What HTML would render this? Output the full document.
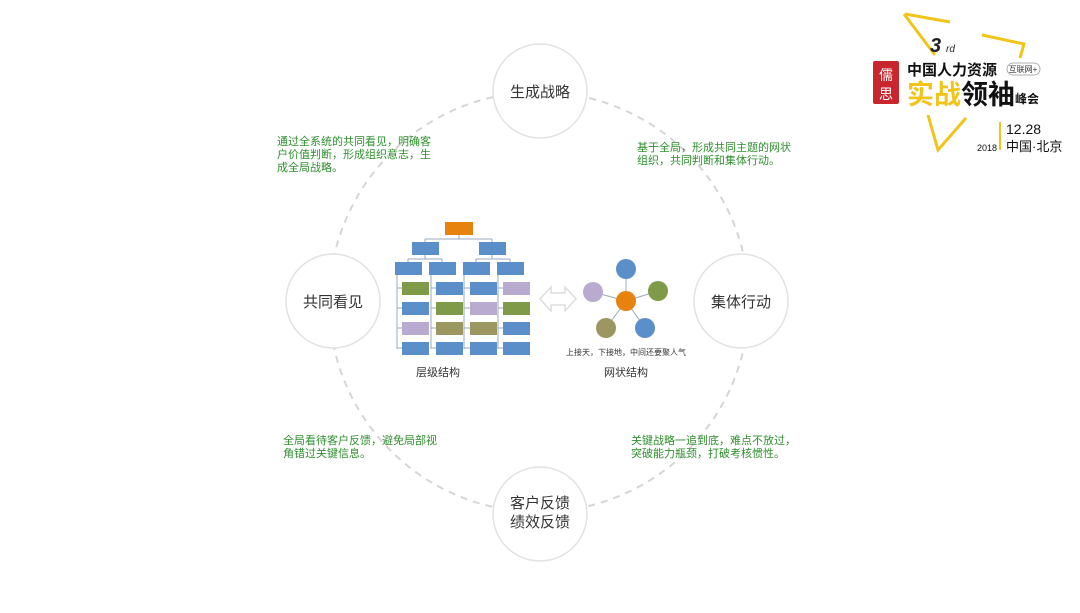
<!DOCTYPE html>
<html><head><meta charset="utf-8"><style>
body{margin:0;width:1080px;height:608px;background:#fff;overflow:hidden;font-family:"Liberation Sans","Noto Sans CJK SC",sans-serif}
</style></head><body>
<svg width="1080" height="608" xmlns="http://www.w3.org/2000/svg" font-family="Liberation Sans, Noto Sans CJK SC, sans-serif">
<circle cx="539" cy="302" r="210" fill="none" stroke="#d6d6d6" stroke-width="2" stroke-dasharray="7,6"/>
<g fill="#fff" stroke="#e2e2e2" stroke-width="1.5">
<circle cx="540" cy="91" r="47"/><circle cx="333" cy="301" r="47"/><circle cx="741" cy="301" r="47"/><circle cx="540" cy="514" r="47"/>
</g>
<g font-size="15" fill="#333" text-anchor="middle">
<text x="540" y="97">生成战略</text><text x="333" y="307">共同看见</text><text x="741" y="307">集体行动</text>
<text x="540" y="508">客户反馈</text><text x="540" y="527">绩效反馈</text>
</g>
<g font-size="11" fill="#2f8f2f">
<text x="277" y="145">通过全系统的共同看见，明确客</text><text x="277" y="158">户价值判断，形成组织意志，生</text><text x="277" y="171">成全局战略。</text>
<text x="637" y="151">基于全局，形成共同主题的网状</text><text x="637" y="164">组织，共同判断和集体行动。</text>
<text x="283" y="444">全局看待客户反馈，避免局部视</text><text x="283" y="457">角错过关键信息。</text>
<text x="631" y="444">关键战略一追到底，难点不放过，</text><text x="631" y="457">突破能力瓶颈，打破考核惯性。</text>
</g>
<!-- hierarchy -->
<g stroke="#9ab" stroke-width="1" fill="none">
<path d="M459 235V239M425 239H492M425 239V242M492 239V242"/>
<path d="M425 255V259M408 259H442M408 259V262M442 259V262"/>
<path d="M492 255V259M476 259H510M476 259V262M510 259V262"/>
<path d="M397 275V349M431 275V349M464 275V349M498 275V349"/>
<path d="M397 288H402M397 308H402M397 328H402M397 348H402M431 288H436M431 308H436M431 328H436M431 348H436M464 288H470M464 308H470M464 328H470M464 348H470M498 288H503M498 308H503M498 328H503M498 348H503"/>
</g>
<rect x="445" y="222" width="28" height="13" fill="#e8820f"/>
<g fill="#5b8fc9">
<rect x="412" y="242" width="27" height="13"/><rect x="479" y="242" width="27" height="13"/>
<rect x="395" y="262" width="27" height="13"/><rect x="429" y="262" width="27" height="13"/><rect x="463" y="262" width="27" height="13"/><rect x="497" y="262" width="27" height="13"/>
</g>
<rect x="402" y="282" width="27" height="13" fill="#7f9a48"/>
<rect x="402" y="302" width="27" height="13" fill="#5b8fc9"/>
<rect x="402" y="322" width="27" height="13" fill="#b9abcf"/>
<rect x="402" y="342" width="27" height="13" fill="#5b8fc9"/>
<rect x="436" y="282" width="27" height="13" fill="#5b8fc9"/>
<rect x="436" y="302" width="27" height="13" fill="#7f9a48"/>
<rect x="436" y="322" width="27" height="13" fill="#9c9660"/>
<rect x="436" y="342" width="27" height="13" fill="#5b8fc9"/>
<rect x="470" y="282" width="27" height="13" fill="#5b8fc9"/>
<rect x="470" y="302" width="27" height="13" fill="#b9abcf"/>
<rect x="470" y="322" width="27" height="13" fill="#9c9660"/>
<rect x="470" y="342" width="27" height="13" fill="#5b8fc9"/>
<rect x="503" y="282" width="27" height="13" fill="#b9abcf"/>
<rect x="503" y="302" width="27" height="13" fill="#7f9a48"/>
<rect x="503" y="322" width="27" height="13" fill="#5b8fc9"/>
<rect x="503" y="342" width="27" height="13" fill="#5b8fc9"/>
<!-- arrow -->
<path d="M540 299L551 287V293H565V287L576 299L565 311V305H551V311Z" fill="#fff" stroke="#ddd" stroke-width="1.5"/>
<!-- network -->
<g stroke="#9ab" stroke-width="1"><path d="M626 301L626 269M626 301L593 292M626 301L658 291M626 301L606 328M626 301L645 328"/></g>
<circle cx="626" cy="269" r="10" fill="#5b8fc9"/><circle cx="593" cy="292" r="10" fill="#b9abcf"/>
<circle cx="658" cy="291" r="10" fill="#7f9a48"/><circle cx="606" cy="328" r="10" fill="#9c9660"/>
<circle cx="645" cy="328" r="10" fill="#5b8fc9"/><circle cx="626" cy="301" r="10" fill="#e8820f"/>
<text x="626" y="355" font-size="8" fill="#333" text-anchor="middle">上接天，下接地，中间还要聚人气</text>
<text x="438" y="376" font-size="11" fill="#333" text-anchor="middle">层级结构</text>
<text x="626" y="376" font-size="11" fill="#333" text-anchor="middle">网状结构</text>
<!-- logo -->
<g fill="none" stroke="#f0c419" stroke-width="3">
<path d="M905 14L950 22M904 14L935 55"/><path d="M982 35L1024 44L1020 58"/><path d="M928 115L938 150L966 118"/>
</g>
<text x="930" y="52" font-size="20" font-weight="bold" font-style="italic" fill="#222">3</text>
<text x="946" y="52" font-size="10" font-style="italic" fill="#222">rd</text>
<rect x="873" y="61" width="26" height="43" rx="2" fill="#c9252c"/>
<text x="886" y="80" font-size="14" fill="#fff" text-anchor="middle">儒</text><text x="886" y="99" font-size="14" fill="#fff" text-anchor="middle">思</text>
<text x="907" y="75" font-size="15" font-weight="bold" fill="#111">中国人力资源</text>
<rect x="1007" y="63" width="33" height="12" rx="6" fill="#fff" stroke="#999" stroke-width="0.8"/>
<text x="1023" y="72" font-size="8" fill="#333" text-anchor="middle">互联网+</text>
<text x="907" y="104" font-size="27" font-weight="bold" fill="#f0c419">实战</text>
<text x="961" y="104" font-size="27" font-weight="bold" fill="#111">领袖</text>
<text x="1015" y="103" font-size="12" font-weight="bold" fill="#111">峰会</text>
<line x1="1000" y1="122" x2="1000" y2="150" stroke="#f0c419" stroke-width="2"/>
<text x="1006" y="134" font-size="14" fill="#111">12.28</text>
<text x="977" y="151" font-size="9" fill="#111">2018</text>
<text x="1006" y="151" font-size="13" fill="#111">中国·北京</text>
</svg>
</body></html>
